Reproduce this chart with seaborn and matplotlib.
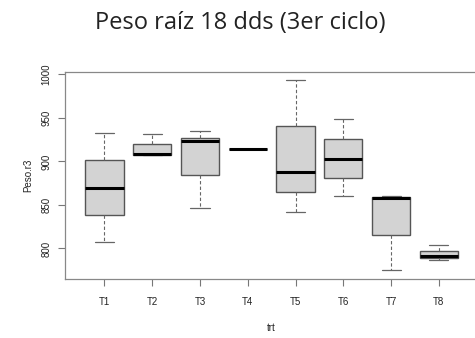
import matplotlib
matplotlib.use('Agg')
import matplotlib.pyplot as plt
import seaborn as sns
import pandas as pd

# Values (5 values per treatment: min, q1, median, q3, max)
trts = ['T1', 'T2', 'T3', 'T4', 'T5', 'T6', 'T7', 'T8']
t1 = [807, 838, 870, 902, 933]
t2 = [907, 907, 908, 920, 932]
t3 = [847, 884.5, 923, 927.5, 934.5]
t4 = [914.5, 914.5, 914.5, 914.5, 914.5]
t5 = [841.5, 865, 887.5, 941, 994]
t6 = [860, 881, 903, 925.5, 948.5]
t7 = [775, 816, 858, 859, 860.5]
t8 = [786.5, 788.5, 791, 797.5, 804]
yticks = [800, 850, 900, 950, 1000]

groups = [t1, t2, t3, t4, t5, t6, t7, t8]
data = pd.DataFrame({
    'trt': [t for t, g in zip(trts, groups) for _ in g],
    'Peso.r3': [v for g in groups for v in g],
})

sns.set_style('ticks')
plt.rcParams['font.family'] = ['Liberation Sans', 'DejaVu Sans']

fig = plt.figure(figsize=(4.75, 3.38), dpi=100)
ax = fig.add_axes([0.1375, 0.1754, 0.869, 0.6115])

sns.boxplot(data=data, x='trt', y='Peso.r3', order=trts, ax=ax,
            color='#d3d3d3', saturation=1, width=0.8, linecolor='#555555',
            linewidth=1, whis=1.5,
            whiskerprops=dict(linestyle=(0, (3, 2)), linewidth=0.8, color='#666666'),
            capprops=dict(linewidth=0.9, color='#666666'),
            medianprops=dict(color='black', linewidth=2.2))

ax.set_xlim(-0.82, 7.82)
ax.set_ylim(765.2, 1002.8)
ax.set_yticks(yticks)
ax.set_yticklabels([str(v) for v in yticks], rotation=90, va='center')
ax.tick_params(axis='both', labelsize=7, length=5, width=0.8, color='#777777',
               labelcolor='#222222')
ax.tick_params(axis='x', pad=8)
ax.tick_params(axis='y', pad=5)
for side in ['left', 'top', 'bottom', 'right']:
    ax.spines[side].set_visible(True)
    ax.spines[side].set_color('#888888')
    ax.spines[side].set_linewidth(0.9)

ax.set_xlabel('trt', fontsize=7, color='#222222', labelpad=12)
ax.set_ylabel('Peso.r3', fontsize=7, color='#222222', labelpad=6)

fig.text(0.505, 0.932, 'Peso raíz 18 dds (3er ciclo)', ha='center', va='center',
         fontsize=17, color='#222222', family=['Open Sans', 'DejaVu Sans'])

fig.savefig('out.png', dpi=100)
